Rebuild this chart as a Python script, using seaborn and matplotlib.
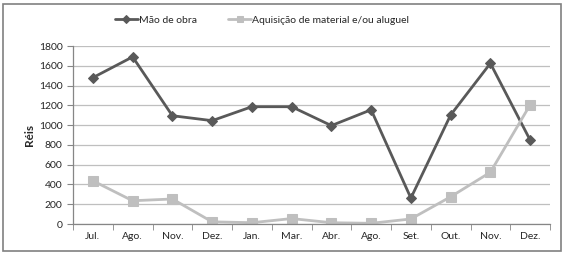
import numpy as np
import pandas as pd
import seaborn as sns
import matplotlib.pyplot as plt
from matplotlib.patches import Rectangle

sns.set_style('white')
plt.rcParams['font.family'] = ['Lato', 'DejaVu Sans']

# dados
meses = ['Jul.', 'Ago.', 'Nov.', 'Dez.', 'Jan.', 'Mar.', 'Abr.', 'Ago.', 'Set.', 'Out.', 'Nov.', 'Dez.']
mao_de_obra = [1480, 1690, 1095, 1045, 1186, 1186, 995, 1155, 262, 1102, 1625, 849]
aquisicao = [437, 235, 253, 22, 13, 55, 13, 7, 51, 275, 523, 1205]
series = ['Mão de obra', 'Aquisição de material e/ou aluguel']

pos = np.arange(len(meses))
df = pd.DataFrame({
    'pos': np.concatenate([pos, pos]),
    'valor': mao_de_obra + aquisicao,
    'serie': [series[0]] * len(meses) + [series[1]] * len(meses),
})

cores = {series[0]: '#595959', series[1]: '#BFBFBF'}
marcadores = {series[0]: 'D', series[1]: 's'}
tamanhos = {series[0]: 5, series[1]: 7}

fig = plt.figure(figsize=(5.67, 2.58), dpi=100)
ax = fig.add_axes([73 / 567, 1 - 224 / 258, 477 / 567, 178 / 258])

for s in series:
    sns.lineplot(data=df[df['serie'] == s], x='pos', y='valor', ax=ax,
                 color=cores[s], marker=marcadores[s], markersize=tamanhos[s],
                 markeredgecolor=cores[s], linewidth=2, label=s)

ax.set_xlim(-0.5, len(meses) - 0.5)
ax.set_ylim(0, 1800)
ax.set_yticks(range(0, 1801, 200))
ax.set_xticks(pos)
ax.set_xticklabels(meses)
ax.set_xticks(np.arange(-0.5, len(meses), 1), minor=True)
ax.tick_params(axis='x', which='major', length=0, labelsize=7.5, pad=6)
ax.tick_params(axis='x', which='minor', length=4, direction='out', color='#868686', bottom=True)
ax.tick_params(axis='y', length=4, direction='out', color='#868686', labelsize=7.5, left=True)
ax.yaxis.grid(True, color='#BFBFBF', linewidth=0.9)
ax.set_axisbelow(True)
for lado in ['top', 'right']:
    ax.spines[lado].set_visible(False)
for lado in ['left', 'bottom']:
    ax.spines[lado].set_color('#868686')
    ax.spines[lado].set_linewidth(0.9)

ax.set_xlabel('')
ax.set_ylabel('Réis', fontsize=8.5, fontweight='bold', labelpad=3)

leg = ax.legend(loc='center', bbox_to_anchor=(262 / 567, 1 - 20 / 258),
                bbox_transform=fig.transFigure, ncol=2, frameon=False,
                fontsize=7.5, handlelength=2.2, handletextpad=0.1, columnspacing=3)
for h in leg.legend_handles:
    h.set_markersize(4)

# moldura
fig.patches.append(Rectangle((3 / 567, 1 - 251 / 258), 558 / 567, 247 / 258,
                             transform=fig.transFigure, fill=False,
                             edgecolor='#808080', linewidth=1.2))

fig.savefig('out.png', dpi=100)
